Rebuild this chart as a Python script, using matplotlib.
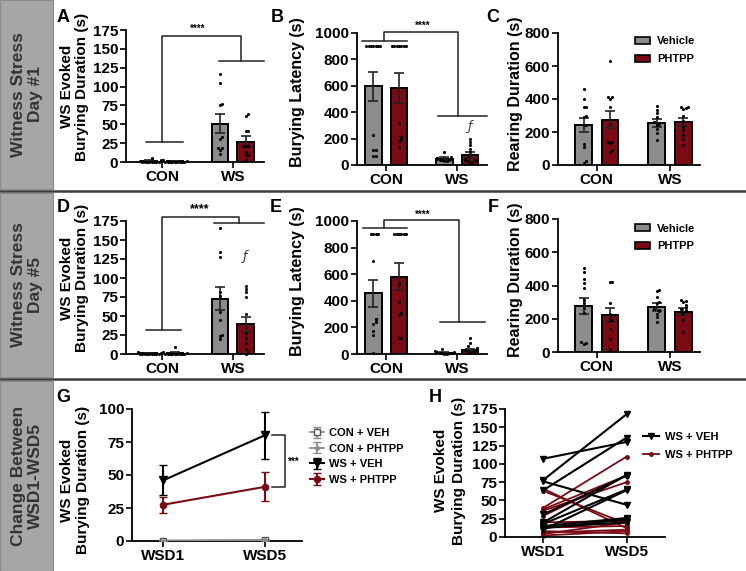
import numpy as np
import matplotlib.pyplot as plt
from matplotlib.patches import Rectangle, Patch
from matplotlib.lines import Line2D

plt.rcParams['font.family'] = ['Liberation Sans', 'DejaVu Sans']
plt.rcParams['font.weight'] = 'bold'
plt.rcParams['axes.labelweight'] = 'bold'
plt.rcParams['axes.linewidth'] = 1.3

# ---------------- data ----------------
groups = ['CON', 'WS']
days = ['WSD1', 'WSD5']
veh_color = '#8c8c8c'
phtpp_color = '#7a0a14'

# A: WSD1 burying duration
a_mean_veh = [1.5, 51]
a_sem_veh = [0.8, 12]
a_mean_phtpp = [0.8, 27]
a_sem_phtpp = [0.4, 7]
a_pts_veh = [[0, 0, 0, 0, 0, 0, 0, 0, 1, 2, 5],
             [117, 105, 77, 76, 33, 30, 18, 18, 16, 10]]
a_pts_phtpp = [[0, 0, 0, 0, 0, 0, 0, 0, 0, 1, 2],
               [63, 61, 41, 41, 21, 21, 21, 13, 9, 9, 2]]

# B: WSD1 burying latency
b_mean_veh = [597, 48]
b_sem_veh = [110, 10]
b_mean_phtpp = [585, 76]
b_sem_phtpp = [112, 22]
b_pts_veh = [[900, 900, 900, 900, 900, 900, 900, 227, 114, 114, 71, 71],
             [101, 60, 55, 50, 45, 42, 40, 38, 35, 30, 28]]
b_pts_phtpp = [[900, 900, 900, 900, 900, 900, 900, 315, 215, 200, 180, 140],
               [200, 175, 150, 125, 100, 60, 45, 40, 35, 30, 25, 20]]

# C: WSD1 rearing duration
c_mean_veh = [240, 255]
c_sem_veh = [42, 24]
c_mean_phtpp = [275, 260]
c_sem_phtpp = [50, 24]
c_pts_veh = [[460, 400, 350, 350, 300, 290, 240, 240, 130, 107, 26, 10],
             [358, 334, 314, 290, 263, 243, 219, 192, 152, 250, 260]]
c_pts_phtpp = [[628, 415, 415, 400, 354, 249, 142, 131, 81, 140, 90],
               [354, 350, 344, 338, 294, 269, 233, 213, 121, 180, 160]]

# D: WSD5 burying duration
d_mean_veh = [0.8, 73]
d_sem_veh = [0.4, 15]
d_mean_phtpp = [1.2, 39]
d_sem_phtpp = [0.9, 10]
d_pts_veh = [[0, 0, 0, 0, 0, 0, 0, 0, 0, 1, 2],
             [166, 134, 128, 82, 76, 55, 45, 25, 24, 20]]
d_pts_phtpp = [[0, 0, 0, 0, 0, 0, 0, 0, 0, 1, 3, 9],
               [90, 86, 82, 75, 53, 36, 27, 21, 14, 7, 3, 0]]

# E: WSD5 burying latency
e_mean_veh = [456, 10]
e_sem_veh = [100, 4]
e_mean_phtpp = [581, 32]
e_sem_phtpp = [100, 9]
e_pts_veh = [[900, 900, 900, 900, 699, 265, 260, 243, 223, 170, 140, 10],
             [35, 20, 15, 12, 10, 8, 5, 5, 3, 0]]
e_pts_phtpp = [[900, 900, 900, 900, 900, 900, 524, 394, 306, 293, 118, 118],
               [118, 85, 60, 45, 40, 35, 30, 28, 25, 20, 15, 10]]

# F: WSD5 rearing duration
f_mean_veh = [278, 268]
f_sem_veh = [49, 24]
f_mean_phtpp = [222, 242]
f_sem_phtpp = [40, 20]
f_pts_veh = [[508, 484, 437, 413, 383, 312, 292, 266, 232, 56, 50, 60],
             [373, 367, 333, 292, 302, 252, 246, 212, 181, 230, 260]]
f_pts_phtpp = [[423, 423, 292, 212, 191, 141, 80, 16, 230, 190],
               [312, 308, 302, 282, 246, 232, 191, 121, 260, 270, 250]]

# G: group means across days
g_con_veh = [0.3, 0.8]
g_con_veh_sem = [0.3, 0.4]
g_con_phtpp = [0.2, 0.5]
g_con_phtpp_sem = [0.2, 0.3]
g_ws_veh = [46, 80]
g_ws_veh_sem = [11.5, 17.5]
g_ws_phtpp = [27.5, 41]
g_ws_phtpp_sem = [6, 11]

# H: individual animals WSD1 -> WSD5
h_veh_wsd1 = [107, 78, 76, 64, 31, 20, 18, 15, 12, 10, 13]
h_veh_wsd5 = [130, 168, 44, 136, 84, 85, 65, 26, 24, 64, 20]
h_phtpp_wsd1 = [63, 66, 40, 38, 36, 29, 20, 13, 8, 6, 4, 2]
h_phtpp_wsd5 = [18, 12, 110, 84, 75, 84, 22, 15, 5, 10, 20, 8]

# ---------------- figure ----------------
W, H = 746, 571
fig = plt.figure(figsize=(W / 100, H / 100), dpi=100)


def add_ax(left, right, top, bottom):
    return fig.add_axes([left / W, 1 - bottom / H, (right - left) / W, (bottom - top) / H])


def swarm(values, center, ymax, dx=0.033, tol=0.022):
    values = np.asarray(values, float)
    xs = np.zeros(len(values))
    placed = []
    for i in np.argsort(values):
        k = sum(1 for p in placed if abs(values[p] - values[i]) < tol * ymax)
        off = ((k + 1) // 2) * (1 if k % 2 else -1) if k else 0
        xs[i] = center + off * dx
        placed.append(i)
    return xs


def style(ax, xlim, ylim, yticks, xlabels):
    ax.spines['top'].set_visible(False)
    ax.spines['right'].set_visible(False)
    ax.set_xlim(*xlim)
    ax.set_ylim(*ylim)
    ax.set_yticks(yticks)
    ax.set_xticks(range(len(xlabels)))
    ax.set_xticklabels(xlabels, fontsize=11, fontweight='bold')
    ax.tick_params(axis='y', labelsize=11, length=4, width=1.2, pad=1.5)
    ax.tick_params(axis='x', length=4, width=1.2, pad=2)
    for t in ax.get_yticklabels():
        t.set_fontweight('bold')


def bar_panel(ax, mv, sv, mp, sp, pv, pp, ymax):
    off, bw = 0.18, 0.23
    x = np.arange(len(groups))
    ax.bar(x - off, mv, bw, color=veh_color, edgecolor='black', linewidth=1.4, zorder=2)
    ax.bar(x + off, mp, bw, color=phtpp_color, edgecolor='black', linewidth=1.4, zorder=2)
    ax.errorbar(x - off, mv, yerr=sv, fmt='none', ecolor='#222222', elinewidth=1.2,
                capsize=3.5, capthick=1.2, zorder=3)
    ax.errorbar(x + off, mp, yerr=sp, fmt='none', ecolor='#222222', elinewidth=1.2,
                capsize=3.5, capthick=1.2, zorder=3)
    for i in range(len(groups)):
        ax.scatter(swarm(pv[i], i - off, ymax), pv[i], s=5, color='black', zorder=4,
                   clip_on=False, linewidths=0)
        ax.scatter(swarm(pp[i], i + off, ymax), pp[i], s=5, color='black', zorder=4,
                   clip_on=False, linewidths=0)


def bracket(ax, x0, x1, ytop, y0, y1, l0, l1, txt, tx, ty, fs=7):
    kw = dict(color='#222222', lw=1.1, clip_on=False)
    ax.plot([x0, x0, x1, x1], [y0, ytop, ytop, y1], **kw)
    ax.plot(l0, [y0, y0], **kw)
    ax.plot(l1, [y1, y1], **kw)
    ax.text(tx, ty, txt, ha='center', va='center', fontsize=fs, fontweight='bold')


def ylab(ax, lines, xs, y, fs):
    for text, xx in zip(lines, xs):
        ax.text(xx, y, text, transform=ax.transAxes, rotation=90, ha='center',
                va='center', fontsize=fs, fontweight='bold')


def leg(ax, y):
    h = [Patch(facecolor=veh_color, edgecolor='black', lw=1.2, label='Vehicle'),
         Patch(facecolor=phtpp_color, edgecolor='black', lw=1.2, label='PHTPP')]
    ax.legend(handles=h, loc='upper left', bbox_to_anchor=(0.47, y), frameon=False,
              handlelength=1.4, handleheight=0.6, labelspacing=0.7,
              handletextpad=0.6, prop={'weight': 'bold', 'size': 8})


def sigf(ax, x, y):
    ax.text(x, y, '\u0192', ha='center', va='center', fontsize=9, fontweight='normal',
            family='DejaVu Sans', style='italic', color='#333333')


# row label boxes and separators
rows = [(0, 189, 'Witness Stress\nDay #1'), (193, 377, 'Witness Stress\nDay #5'),
        (381, 571, 'Change Between\nWSD1-WSD5')]
for top, bot, lab in rows:
    fig.patches.append(Rectangle((0, 1 - bot / H), 53 / W, (bot - top) / H,
                                 transform=fig.transFigure, facecolor='#a6a6a6',
                                 edgecolor='#8a8a8a', lw=0.8, zorder=-1))
    fig.text(27 / W, 1 - (top + bot) / 2 / H, lab, rotation=90, ha='center', va='center',
             fontsize=12.5, fontweight='bold', color='#333333', linespacing=1.2)
for yy in [191, 379]:
    fig.add_artist(Line2D([0, 1], [1 - yy / H] * 2, transform=fig.transFigure,
                          color='#3c3c3c', lw=1.8))

# panel letters
for lab, x, y in [('A', 63, 17), ('B', 277, 17), ('C', 493, 17), ('D', 63, 207),
                  ('E', 276, 207), ('F', 493, 207), ('G', 63, 397), ('H', 435, 397)]:
    fig.text(x / W, 1 - y / H, lab, fontsize=13, fontweight='bold', ha='center', va='center')

dur_lines = ['WS Evoked', 'Burying Duration (s)']

# A
axA = add_ax(126, 264, 30, 162)
bar_panel(axA, a_mean_veh, a_sem_veh, a_mean_phtpp, a_sem_phtpp, a_pts_veh, a_pts_phtpp, 175)
style(axA, (-0.51, 1.44), (0, 175), np.arange(0, 176, 25), groups)
ylab(axA, dur_lines, [-0.43, -0.32], 0.57, 11)
bracket(axA, 0, 1.11, 167, 26, 134, [-0.23, 0.3], [0.8, 1.44], '****', 0.5, 176)

# B
axB = add_ax(357, 487, 33, 165)
bar_panel(axB, b_mean_veh, b_sem_veh, b_mean_phtpp, b_sem_phtpp, b_pts_veh, b_pts_phtpp, 1000)
style(axB, (-0.41, 1.42), (0, 1000), np.arange(0, 1001, 200), groups)
ylab(axB, ['Burying Latency (s)'], [-0.46], 0.55, 11.5)
bracket(axB, -0.03, 1.01, 1005, 942, 374, [-0.34, 0.3], [0.73, 1.42], '****', 0.52, 1055)
sigf(axB, 1.18, 290)

# C
axC = add_ax(558, 700, 33, 165)
bar_panel(axC, c_mean_veh, c_sem_veh, c_mean_phtpp, c_sem_phtpp, c_pts_veh, c_pts_phtpp, 800)
style(axC, (-0.53, 1.41), (0, 800), np.arange(0, 801, 200), groups)
ylab(axC, ['Rearing Duration (s)'], [-0.30], 0.54, 11.5)
leg(axC, 1.05)

# D
axD = add_ax(126, 264, 221, 354)
bar_panel(axD, d_mean_veh, d_sem_veh, d_mean_phtpp, d_sem_phtpp, d_pts_veh, d_pts_phtpp, 175)
style(axD, (-0.51, 1.44), (0, 175), np.arange(0, 176, 25), groups)
ylab(axD, dur_lines, [-0.43, -0.32], 0.57, 11)
bracket(axD, 0, 1.08, 180, 32, 173, [-0.23, 0.27], [0.73, 1.44], '****', 0.53, 191, fs=9)
sigf(axD, 1.18, 128)

# E
axE = add_ax(357, 487, 221, 354)
bar_panel(axE, e_mean_veh, e_sem_veh, e_mean_phtpp, e_sem_phtpp, e_pts_veh, e_pts_phtpp, 1000)
style(axE, (-0.41, 1.42), (0, 1000), np.arange(0, 1001, 200), groups)
ylab(axE, ['Burying Latency (s)'], [-0.46], 0.55, 11.5)
bracket(axE, -0.03, 1.03, 1010, 945, 238, [-0.32, 0.3], [0.76, 1.39], '****', 0.52, 1050)

# F
axF = add_ax(558, 700, 219, 352)
bar_panel(axF, f_mean_veh, f_sem_veh, f_mean_phtpp, f_sem_phtpp, f_pts_veh, f_pts_phtpp, 800)
style(axF, (-0.53, 1.41), (0, 800), np.arange(0, 801, 200), groups)
ylab(axF, ['Rearing Duration (s)'], [-0.30], 0.54, 11.5)
leg(axF, 1.04)

# G
axG = add_ax(132, 302, 409, 541)
x = np.arange(len(days))
axG.errorbar(x, g_con_veh, yerr=g_con_veh_sem, color='#8c8c8c', marker='s', ms=4,
             mfc='white', mec='#555555', lw=1.3, capsize=3, label='CON + VEH', zorder=3)
axG.errorbar(x, g_con_phtpp, yerr=g_con_phtpp_sem, color='#8c8c8c', marker='o', ms=2.5,
             lw=1.3, capsize=3, label='CON + PHTPP', zorder=3)
axG.errorbar(x, g_ws_veh, yerr=g_ws_veh_sem, color='black', marker='v', ms=6,
             lw=1.5, capsize=3, label='WS + VEH', zorder=3)
axG.errorbar(x, g_ws_phtpp, yerr=g_ws_phtpp_sem, color=phtpp_color, marker='o', ms=4.5,
             lw=1.5, capsize=3, label='WS + PHTPP', zorder=3)
style(axG, (-0.31, 1.37), (0, 100), np.arange(0, 101, 25), days)
ylab(axG, dur_lines, [-0.38, -0.29], 0.46, 11)
kw = dict(color='#222222', lw=1.1, clip_on=False)
axG.plot([1.07, 1.2, 1.2, 1.07], [g_ws_veh[1], g_ws_veh[1], g_ws_phtpp[1], g_ws_phtpp[1]], **kw)
axG.text(1.29, 60, '***', ha='center', va='center', fontsize=7, fontweight='bold')
axG.legend(loc='center left', bbox_to_anchor=(0.99, 0.64), frameon=False,
           handlelength=1.2, labelspacing=0.5, handletextpad=0.5,
           prop={'weight': 'bold', 'size': 8})

# H
axH = add_ax(505, 665, 409, 537)
for i in range(len(h_phtpp_wsd1)):
    axH.plot(x, [h_phtpp_wsd1[i], h_phtpp_wsd5[i]], color=phtpp_color, marker='o', ms=2.5,
             lw=1.3, clip_on=False, label='WS + PHTPP' if i == 0 else None)
for i in range(len(h_veh_wsd1)):
    axH.plot(x, [h_veh_wsd1[i], h_veh_wsd5[i]], color='black', marker='v', ms=5,
             lw=1.5, clip_on=False, label='WS + VEH' if i == 0 else None)
style(axH, (-0.46, 1.46), (0, 175), np.arange(0, 176, 25), days)
ylab(axH, dur_lines, [-0.40, -0.29], 0.52, 11)
hd, lb = axH.get_legend_handles_labels()
axH.legend(hd[::-1], lb[::-1], loc='center left', bbox_to_anchor=(0.80, 0.71), frameon=False,
           handlelength=1.4, labelspacing=0.7, handletextpad=0.6,
           prop={'weight': 'bold', 'size': 8})

fig.savefig('out.png', dpi=100)
